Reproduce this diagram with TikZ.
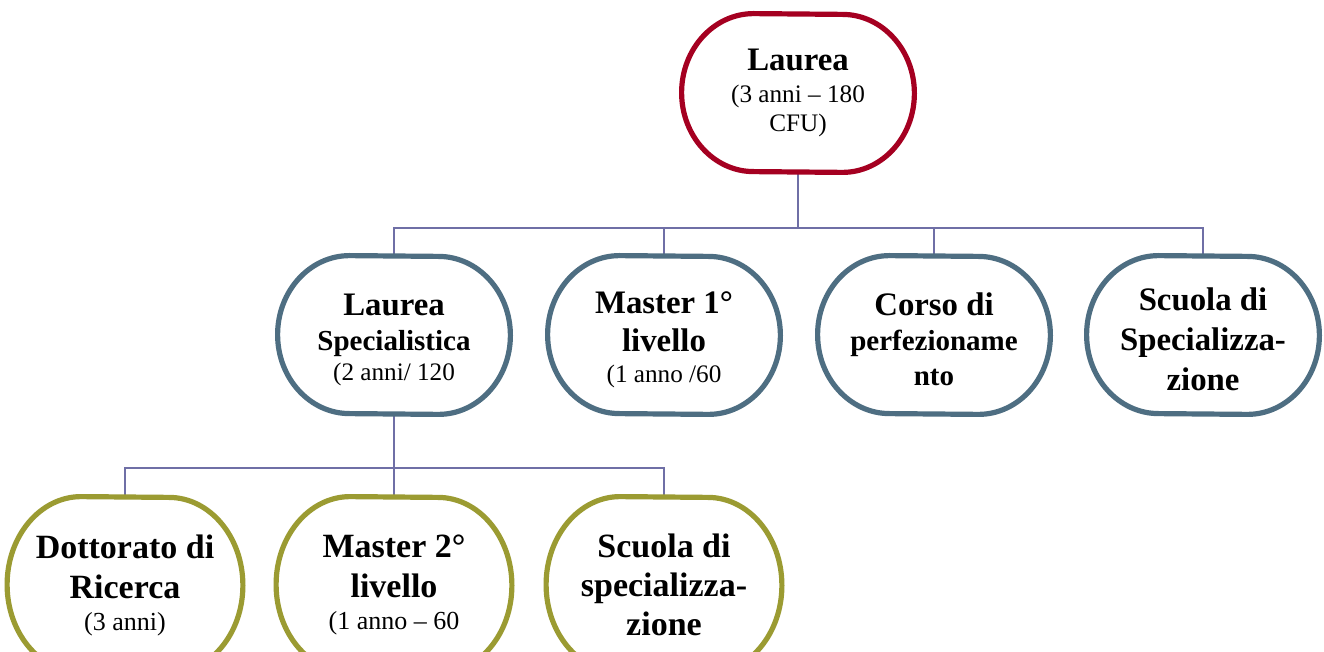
\documentclass[tikz,border=0pt]{standalone}
\usepackage{fontspec}
\setmainfont{Liberation Serif}
\usetikzlibrary{calc}
\definecolor{cred}{HTML}{A50021}
\definecolor{cblue}{HTML}{4E6E82}
\definecolor{colive}{HTML}{9B9B32}
\definecolor{cline}{HTML}{6F6FA6}
\newcommand\sm[1]{{\mdseries\fontsize{12.6}{15}\selectfont #1}}
\newcommand\smb[1]{{\mdseries\fontsize{13}{15}\selectfont #1}}
\newcommand\sbf[1]{{\fontsize{14.5}{15}\selectfont #1}}
\newcommand\tstrut{\rule{0pt}{16pt}}
\newcommand\drawblob[4]{%
  \draw[line width=2.6pt,draw=#2,line join=round] ([xshift=#3]#1.north west)
    arc[start angle=90,end angle=270,x radius=#3,y radius=#4]
    -- ([xshift=-#3]#1.south east)
    arc[start angle=-90,end angle=90,x radius=#3,y radius=#4]
    -- cycle;}
\begin{document}
\begin{tikzpicture}[x=0.5pt,y=-0.5pt,
  box/.style={minimum width=116pt, minimum height=79pt, inner sep=0pt, align=center,
    font=\bfseries\fontsize{16.4}{17.5}\selectfont},
  bot/.style={box, minimum width=117.5pt, minimum height=88pt,
    font=\bfseries\fontsize{17}{18}\selectfont},
  conn/.style={draw=cline, line width=1pt}]
\clip (0,0) rectangle (1324,652);
\useasboundingbox (0,0) rectangle (1324,652);
\fill[white] (0,0) rectangle (1324,652);

\node[box] (L0) at (798,93) {Laurea\\[-1.5pt]\sm{(3 anni – 180}\\[-3pt]\sm{CFU)}};

\node[box] (LS) at (394,335) {\tstrut Laurea\\\sbf{Specialistica}\\[-2.5pt]\sm{(2 anni/ 120}};
\node[box] (M1) at (664,335) {\tstrut Master 1°\\[1.5pt]livello\\[-2pt]\sm{(1 anno /60}};
\node[box] (CP) at (934,335) {\tstrut Corso di\\\sbf{perfezioname}\\\sbf{nto}};
\node[box] (SS) at (1203,335) {\tstrut Scuola di\\[2.5pt]Specializza-\\[2.5pt]zione};

\node[bot] (DR) at (125,585) {Dottorato di\\[2pt]Ricerca\\[-2pt]\smb{(3 anni)}};
\node[bot] (M2) at (394,585) {Master 2°\\[2pt]livello\\[-2pt]\smb{(1 anno – 60}};
\node[bot] (SP) at (664,585) {Scuola di\\[1.5pt]specializza-\\[1.5pt]zione};

\coordinate (b1) at (0,228);
\coordinate (b2) at (0,468);
\foreach \c in {LS,M1,CP,SS}{\draw[conn] (L0.south) -- (L0.south |- b1) -| (\c.north);}
\foreach \c in {DR,M2,SP}{\draw[conn] (LS.south) -- (LS.south |- b2) -| (\c.north);}

\drawblob{L0}{cred}{36pt}{39.5pt}
\drawblob{LS}{cblue}{36pt}{39.5pt}
\drawblob{M1}{cblue}{36pt}{39.5pt}
\drawblob{CP}{cblue}{36pt}{39.5pt}
\drawblob{SS}{cblue}{36pt}{39.5pt}
\drawblob{DR}{colive}{37pt}{44pt}
\drawblob{M2}{colive}{37pt}{44pt}
\drawblob{SP}{colive}{37pt}{44pt}
\end{tikzpicture}
\end{document}
